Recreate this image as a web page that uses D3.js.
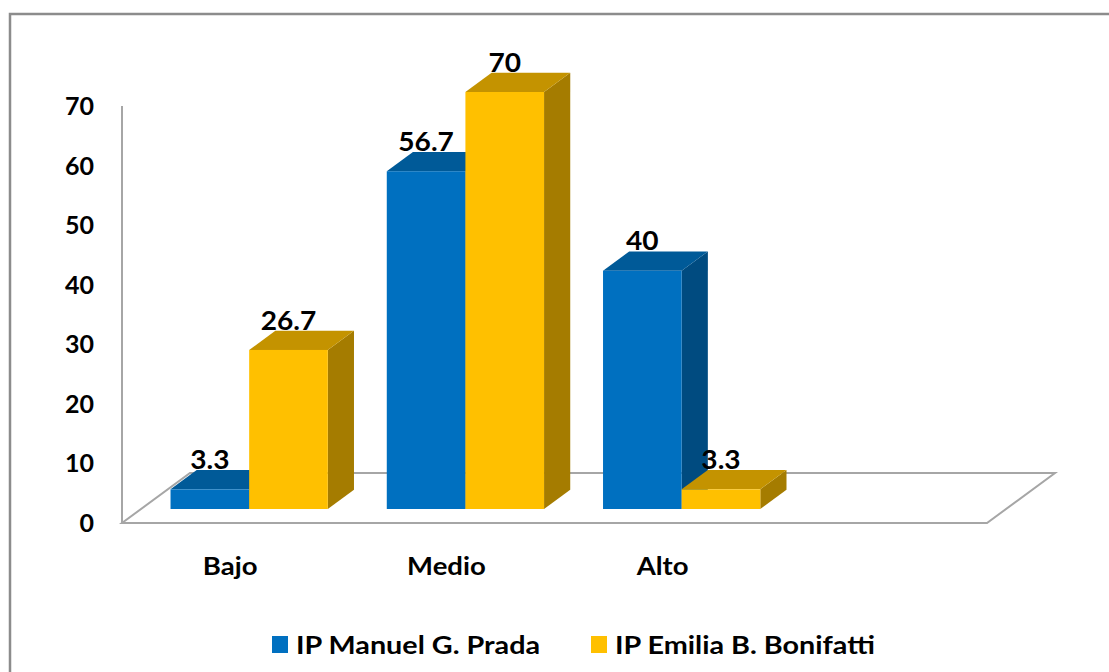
<!DOCTYPE html>
<html>
<head>
<meta charset="utf-8">
<script src="https://cdn.jsdelivr.net/npm/d3@7"></script>
<style>
  body { margin: 0; background: #fff; }
  text { font-family: Lato, "Open Sans", sans-serif; font-weight: bold; fill: #000; }
</style>
</head>
<body>
<script>
// chart data
var categories = ["Bajo", "Medio", "Alto", ""];
var seriesNames = ["IP Manuel G. Prada", "IP Emilia B. Bonifatti"];
var prada = [3.3, 56.7, 40, null];
var bonifatti = [26.7, 70, 3.3, null];
var yTicks = [0, 10, 20, 30, 40, 50, 60, 70];

var width = 1109, height = 672;

// colours per series: front, top, side
var colors = [
  {front: "#0070c0", top: "#005a98", side: "#004b80"},
  {front: "#ffc000", top: "#c49300", side: "#a57c00"}
];

// floor geometry (front-left corner and depth offset)
var x0 = 122, x1 = 987, floorY = 523;
var depthX = 68, depthY = -50;
// bars sit part way into the floor
var barStart = 0.28, barDepth = 0.385;

var svg = d3.select("body").append("svg")
  .attr("width", width)
  .attr("height", height);

// outer chart border (runs off the right and bottom)
svg.append("rect")
  .attr("x", 10).attr("y", 14)
  .attr("width", 1120).attr("height", 700)
  .attr("fill", "none")
  .attr("stroke", "#8c8c8c")
  .attr("stroke-width", 2.5);

var y = d3.scaleLinear().domain([0, 70]).range([floorY, 106]);
var x = d3.scaleBand().domain(categories).range([x0, x1]).paddingInner(0).paddingOuter(0);
var xs = d3.scaleBand().domain(seriesNames).range([0, x.bandwidth()]).paddingInner(0).paddingOuter(0.375);

// floor outline
var floor = [[x0, floorY], [x1, floorY], [x1 + depthX, floorY + depthY], [x0 + depthX, floorY + depthY]];
svg.append("path")
  .attr("d", d3.line()(floor) + "Z")
  .attr("fill", "none")
  .attr("stroke", "#a6a6a6")
  .attr("stroke-width", 2);

// vertical axis line
svg.append("line")
  .attr("x1", x0).attr("x2", x0)
  .attr("y1", y(70)).attr("y2", floorY)
  .attr("stroke", "#a6a6a6")
  .attr("stroke-width", 2);

// y tick labels
svg.selectAll(".ytick")
  .data(yTicks)
  .enter()
  .append("text")
  .attr("class", "ytick")
  .attr("x", 94)
  .attr("y", function(d) { return y(d); })
  .attr("dy", "0.36em")
  .attr("text-anchor", "end")
  .style("font-size", "25px")
  .text(function(d) { return d; });

// build bar records
var bars = [];
categories.forEach(function(c, i) {
  [prada, bonifatti].forEach(function(vals, s) {
    if (vals[i] == null) return;
    bars.push({cat: c, s: s, value: vals[i]});
  });
});

var fx = barStart * depthX, fy = barStart * depthY;
var dx = barDepth * depthX, dy = barDepth * depthY;

var g = svg.selectAll(".bar")
  .data(bars)
  .enter()
  .append("g")
  .attr("class", "bar");

function geo(d) {
  var left = x(d.cat) + xs(seriesNames[d.s]) + fx;
  var right = left + xs.bandwidth();
  var bottom = y(0) + fy;
  var top = y(d.value) + fy;
  return {l: left, r: right, b: bottom, t: top};
}

// side face
g.append("path")
  .attr("d", function(d) {
    var q = geo(d);
    return d3.line()([[q.r, q.b], [q.r + dx, q.b + dy], [q.r + dx, q.t + dy], [q.r, q.t]]) + "Z";
  })
  .attr("fill", function(d) { return colors[d.s].side; });

// top face
g.append("path")
  .attr("d", function(d) {
    var q = geo(d);
    return d3.line()([[q.l, q.t], [q.r, q.t], [q.r + dx, q.t + dy], [q.l + dx, q.t + dy]]) + "Z";
  })
  .attr("fill", function(d) { return colors[d.s].top; });

// front face
g.append("rect")
  .attr("x", function(d) { return geo(d).l; })
  .attr("y", function(d) { return geo(d).t; })
  .attr("width", xs.bandwidth())
  .attr("height", function(d) { var q = geo(d); return q.b - q.t; })
  .attr("fill", function(d) { return colors[d.s].front; });

// data labels (slightly stretched to match the wider original font)
g.append("text")
  .attr("transform", function(d) {
    var q = geo(d);
    return "translate(" + ((q.l + q.r) / 2) + "," + (q.t + dy - 1) + ") scale(1.08,1)";
  })
  .attr("text-anchor", "middle")
  .style("font-size", "26px")
  .text(function(d) { return d.value; });

// category labels
svg.selectAll(".xlabel")
  .data(categories.filter(function(c) { return c !== ""; }))
  .enter()
  .append("text")
  .attr("class", "xlabel")
  .attr("transform", function(d) {
    return "translate(" + (x(d) + x.bandwidth() / 2) + ",575) scale(1.1,1)";
  })
  .attr("text-anchor", "middle")
  .style("font-size", "25px")
  .text(function(d) { return d; });

// legend
var legendX = [272, 591];
var legend = svg.selectAll(".legend")
  .data(seriesNames)
  .enter()
  .append("g")
  .attr("class", "legend")
  .attr("transform", function(d, i) { return "translate(" + legendX[i] + ",636)"; });

legend.append("rect")
  .attr("width", 16).attr("height", 17)
  .attr("fill", function(d, i) { return colors[i].front; });

legend.append("text")
  .attr("transform", "translate(24,18) scale(1.15,1)")
  .style("font-size", "25px")
  .text(function(d) { return d; });
</script>
</body>
</html>
